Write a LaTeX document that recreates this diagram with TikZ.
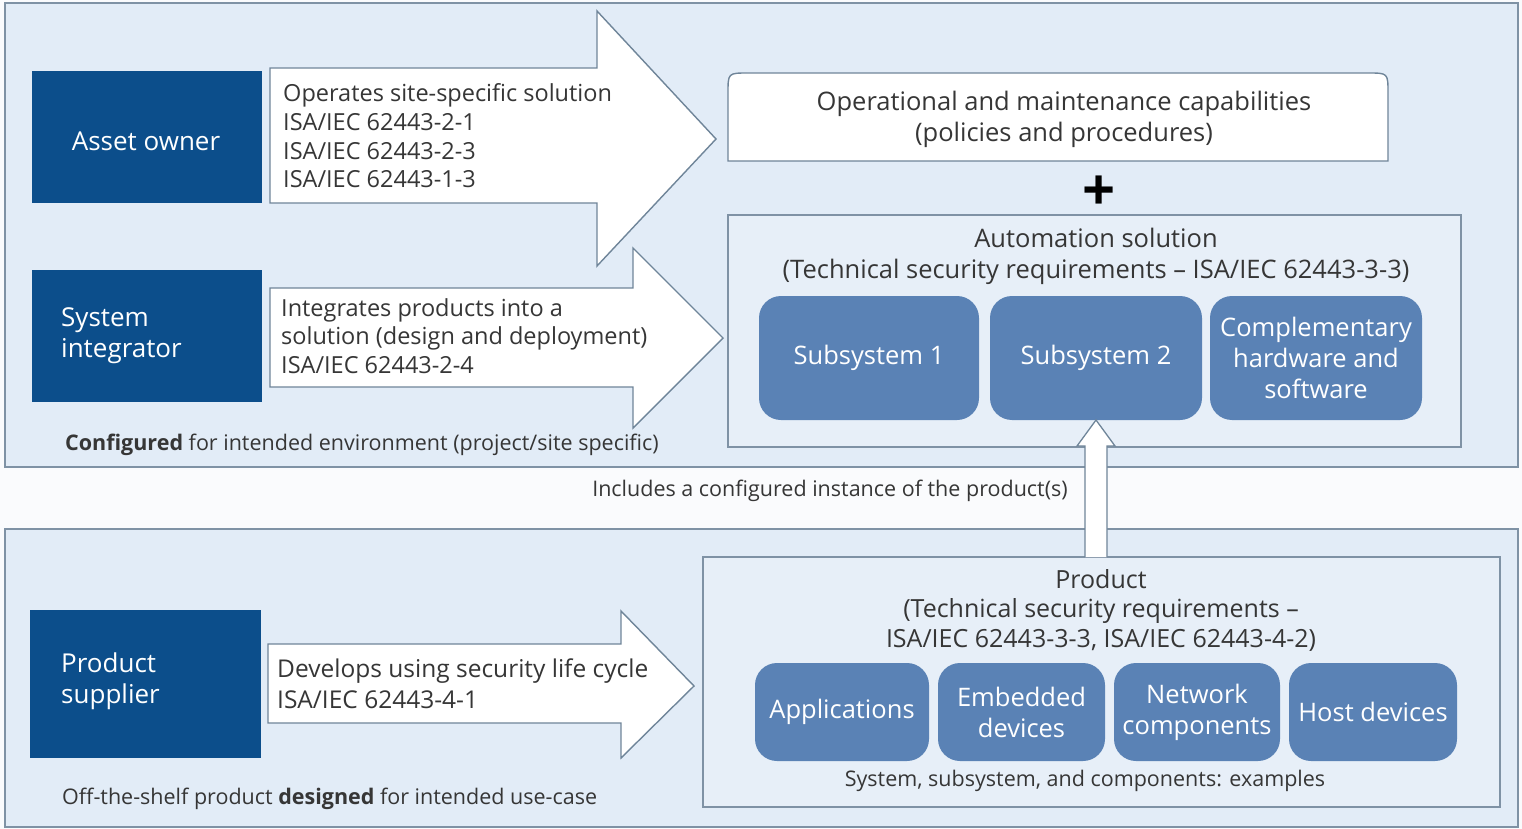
\documentclass[tikz,border=0pt]{standalone}
\usepackage{fontspec}
\setmainfont{Open Sans}
\usetikzlibrary{calc}
\definecolor{bgc}{HTML}{FAFBFD}
\definecolor{panelc}{HTML}{E2ECF7}
\definecolor{innerc}{HTML}{E7EFF8}
\definecolor{pborder}{HTML}{7F92A5}
\definecolor{aborder}{HTML}{6F8599}
\definecolor{dblue}{HTML}{0C4E8B}
\definecolor{mblue}{HTML}{5A82B5}
\definecolor{tgray}{HTML}{363636}
\newcommand{\fsz}[2]{\fontsize{#1}{#2}\selectfont}
\begin{document}
\begin{tikzpicture}[x=1pt,y=-1pt,
  panelbox/.style={draw=pborder, line width=1.5pt, fill=panelc, inner sep=0pt, outer sep=0pt, anchor=north west},
  innerbox/.style={draw=pborder, line width=1.3pt, fill=innerc, inner sep=0pt, outer sep=0pt, anchor=north west},
  actor/.style={fill=dblue, inner sep=0pt, outer sep=0pt, anchor=north west},
  bigarrow/.style={draw=aborder, line width=1.4pt, fill=white, line join=miter},
  atext/.style={text=tgray, font=\fsz{23.5}{28.7}, align=left, anchor=west, inner sep=0pt},
  ttext/.style={text=tgray, font=\fsz{25.5}{31}, align=center, inner sep=0pt},
  stext/.style={text=tgray, font=\fsz{21.5}{24}, inner sep=0pt},
  wtext/.style={text=white, font=\fsz{26}{31}, align=left, inner sep=0pt},
  comp/.style={fill=mblue, rounded corners=22pt, inner sep=0pt, outer sep=0pt, text=white, font=\fsz{25.5}{31}, align=center, anchor=north west}
]
\useasboundingbox (0,0) rectangle (1522,829);
\fill[bgc] (0,0) rectangle (1522,829);

% panels
\node[panelbox, minimum width=1513pt, minimum height=464pt] (top) at (5,3) {};
\node[panelbox, minimum width=1513pt, minimum height=298pt] (bot) at (5,529) {};

% actors
\node[actor, minimum width=230pt, minimum height=132pt] (ao) at (32,71) {};
\node[wtext] (aot) at (146,141) {Asset owner};
\node[actor, minimum width=230pt, minimum height=132pt] (si) at (32,270) {};
\node[wtext, anchor=west] (sit) at (61,336) {System\\integrator};
\node[actor, minimum width=231pt, minimum height=148pt] (ps) at (30,610) {};
\node[wtext, anchor=west] (pst) at (61,681) {Product\\supplier};

% big arrows
\draw[bigarrow] (270,68) -- (597,68) -- (597,11) -- (716,139) -- (597,266) -- (597,203) -- (270,203) -- cycle;
\node[atext] (a1t) at (283,136) {Operates site-specific solution\\ISA/IEC 62443-2-1\\ISA/IEC 62443-2-3\\ISA/IEC 62443-1-3};
\draw[bigarrow] (270,288) -- (633,288) -- (633,248) -- (723,338) -- (633,428) -- (633,387) -- (270,387) -- cycle;
\node[atext] (a2t) at (281,336) {Integrates products into a\\solution (design and deployment)\\ISA/IEC 62443-2-4};
\draw[bigarrow] (268,644) -- (621,644) -- (621,611) -- (694,686) -- (621,758) -- (621,723) -- (268,723) -- cycle;
\node[atext, font=\fsz{24.5}{31}] (a3t) at (277,684) {Develops using security life cycle\\ISA/IEC 62443-4-1};

% captions
\node[stext, anchor=west] (cap1) at (65,445) {\textbf{Configured} for intended environment (project/site specific)};
\node[stext, anchor=west] (cap2) at (62,799) {Off-the-shelf product \textbf{designed} for intended use-case};

% operational box
\draw[draw=aborder, line width=1.4pt, fill=white] (728,161) -- (728,93) .. controls (728,73) .. (748,73) -- (1368,73) .. controls (1388,73) .. (1388,93) -- (1388,161) -- cycle;
\node[ttext] (opt) at (1064,119) {Operational and maintenance capabilities\\(policies and procedures)};
\node[text=black, font=\fsz{58}{58}\bfseries, inner sep=0pt] (plus) at (1099,193) {+};

% automation solution
\node[innerbox, minimum width=733pt, minimum height=232pt] (auto) at (728,215) {};
\node[ttext] (autot) at (1096,256) {Automation solution\\(Technical security requirements -- ISA/IEC 62443-3-3)};
\node[comp, minimum width=220pt, minimum height=124pt] (sub1) at (759,296) {Subsystem 1};
\node[comp, minimum width=212pt, minimum height=124pt] (sub2) at (990,296) {Subsystem 2};
\node[comp, minimum width=212pt, minimum height=124pt] (comp) at (1210,296) {Complementary\\hardware and\\software};

% product
\node[innerbox, minimum width=797pt, minimum height=250pt] (prod) at (703,557) {};
\node[ttext, font=\fsz{25}{29.5}] (prodt) at (1101,610) {Product\\(Technical security requirements --\\ISA/IEC 62443-3-3, ISA/IEC 62443-4-2)};
\node[comp, minimum width=174pt, minimum height=98pt] (app) at (755,663) {Applications};
\node[comp, minimum width=167pt, minimum height=98pt] (emb) at (938,663) {Embedded\\devices};
\node[comp, minimum width=166pt, minimum height=98pt] (net) at (1114,663) {Network\\components};
\node[comp, minimum width=168pt, minimum height=98pt] (host) at (1289,663) {Host devices};
\node[stext] (ex) at (1085,781) {System, subsystem, and components: examples};

% vertical arrow
\draw[bigarrow, line width=1.3pt] ($(sub2.south |- prod.north)+(-11,0)$) -- ($(sub2.south)+(-11,26)$) -- ($(sub2.south)+(-19,26)$) -- (sub2.south) -- ($(sub2.south)+(19,26)$) -- ($(sub2.south)+(11,26)$) -- ($(sub2.south |- prod.north)+(11,0)$);
\node[stext] (inc) at (830,491) {Includes a configured instance of the product(s)};
\end{tikzpicture}
\end{document}
